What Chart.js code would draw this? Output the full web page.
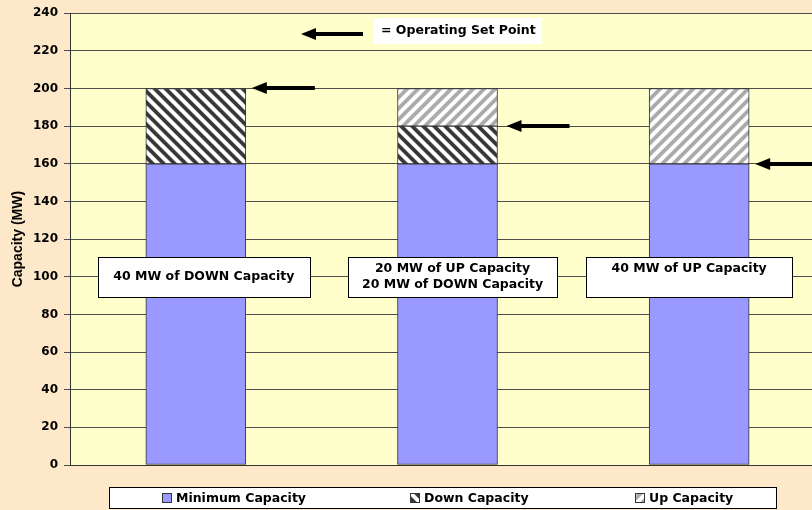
<!DOCTYPE html>
<html>
<head>
<meta charset="utf-8">
<script src="https://cdn.jsdelivr.net/npm/chart.js@4.4.0/dist/chart.umd.min.js"></script>
<style>
  html, body { margin: 0; padding: 0; background: #FDE9C9; overflow: hidden; }
  #wrap { position: relative; width: 825px; height: 510px; }
</style>
</head>
<body>
<div id="wrap"><canvas id="capacityChart" width="825" height="510"></canvas></div>
<script>
const categories = ["Case 1", "Case 2", "Case 3"];
const minimumCapacity = [160, 160, 160];
const downCapacity = [40, 20, 0];
const upCapacity = [0, 20, 40];
const setPoints = [200, 180, 160];
const notes = [
  ["40 MW of DOWN Capacity"],
  ["20 MW of UP Capacity", "20 MW of DOWN Capacity"],
  ["40 MW of UP Capacity", ""]
];
const yMin = 0, yMax = 240, yStep = 20;
const setPointLabel = "= Operating Set Point";

const canvas = document.getElementById("capacityChart");
const ctx = canvas.getContext("2d");
const textFont = "bold 12.5px 'DejaVu Sans'";

// diagonal hatch tiles, dir 1 = "/", -1 = "\"
function stripes(size, dark, light, dir) {
  const c = document.createElement("canvas");
  c.width = c.height = size;
  const g = c.getContext("2d");
  const img = g.createImageData(size, size);
  for (let y = 0; y < size; y++) {
    for (let x = 0; x < size; x++) {
      const d = (((dir > 0 ? x + y : x - y) % size) + size) % size;
      const t = 0.5 + 0.5 * Math.cos(2 * Math.PI * d / size);
      const k = Math.min(1, Math.max(0, (t - 0.3) / 0.45));
      const v = Math.round(light + (dark - light) * k);
      const i = (y * size + x) * 4;
      img.data[i] = img.data[i + 1] = img.data[i + 2] = v;
      img.data[i + 3] = 255;
    }
  }
  g.putImageData(img, 0, 0);
  return ctx.createPattern(c, "repeat");
}

const downPattern = stripes(11, 55, 255, -1);
const upPattern = stripes(11, 170, 255, 1);

function drawArrow(c, tipX, y, len) {
  c.fillStyle = "#000";
  c.beginPath();
  c.moveTo(tipX, y);
  c.lineTo(tipX + 15, y - 6);
  c.lineTo(tipX + 15, y + 6);
  c.closePath();
  c.fill();
  c.fillRect(tipX + 12, y - 2, len - 12, 4);
}

const backdrop = {
  id: "backdrop",
  beforeDraw(chart) {
    const c = chart.ctx, a = chart.chartArea;
    c.save();
    c.fillStyle = "#FDE9C9";
    c.fillRect(0, 0, chart.width, chart.height);
    c.fillStyle = "#FFFFCC";
    c.fillRect(a.left, a.top, a.right - a.left, a.bottom - a.top);
    c.restore();
  }
};

const noteBoxes = [{ dx: 8, w: 212 }, { dx: 5, w: 209 }, { dx: -10, w: 206 }];
const arrowGaps = [6, 9, 6];
const legendSwatchX = [162, 410, 635];

const overlay = {
  id: "overlay",
  afterDraw(chart) {
    const c = chart.ctx;
    const y = chart.scales.y;
    const top = chart.getDatasetMeta(2).data;
    c.save();

    // set point arrows
    setPoints.forEach((v, i) => {
      const bar = top[i];
      drawArrow(c, bar.x + bar.width / 2 + arrowGaps[i], Math.round(y.getPixelForValue(v)), 63);
    });

    // text boxes
    c.font = textFont;
    c.textAlign = "center";
    c.textBaseline = "middle";
    notes.forEach((lines, i) => {
      const cx = top[i].x + noteBoxes[i].dx;
      const cy = y.getPixelForValue(100);
      const w = noteBoxes[i].w, h = 40;
      const bx = Math.round(cx - w / 2) + 0.5, by = Math.round(cy - h / 2) + 0.5;
      c.fillStyle = "#fff";
      c.fillRect(bx, by, w, h);
      c.strokeStyle = "#000";
      c.lineWidth = 1;
      c.strokeRect(bx, by, w, h);
      c.fillStyle = "#000";
      lines.forEach((t, j) => {
        c.fillText(t, cx, cy + (j - (lines.length - 1) / 2) * 16);
      });
    });

    // set point key
    drawArrow(c, 301, 34, 62);
    c.fillStyle = "#fff";
    c.fillRect(374, 18, 168, 26);
    c.fillStyle = "#000";
    c.textAlign = "left";
    c.fillText(setPointLabel, 381, 31);

    // legend
    c.fillStyle = "#fff";
    c.fillRect(109.5, 487.5, 667, 21);
    c.strokeStyle = "#000";
    c.strokeRect(109.5, 487.5, 667, 21);
    chart.data.datasets.forEach((ds, i) => {
      const sx = legendSwatchX[i];
      c.fillStyle = ds.backgroundColor;
      c.fillRect(sx, 493, 10, 10);
      c.strokeStyle = "#333";
      c.strokeRect(sx + 0.5, 493.5, 9, 9);
      c.fillStyle = "#000";
      c.fillText(ds.label, sx + 14, 498.5);
    });
    c.restore();
  }
};

new Chart(canvas, {
  type: "bar",
  data: {
    labels: categories,
    datasets: [
      { label: "Minimum Capacity", data: minimumCapacity, backgroundColor: "#9999FF" },
      { label: "Down Capacity", data: downCapacity, backgroundColor: downPattern },
      { label: "Up Capacity", data: upCapacity, backgroundColor: upPattern }
    ].map(d => Object.assign(d, { borderColor: "#333", borderWidth: 1, borderSkipped: false, barThickness: 100 }))
  },
  options: {
    responsive: false,
    animation: false,
    devicePixelRatio: 1,
    layout: { padding: { top: 11, right: 0, bottom: 45, left: 0 } },
    plugins: { legend: { display: false }, tooltip: { enabled: false } },
    scales: {
      x: {
        stacked: true,
        grid: { display: false, drawTicks: false },
        ticks: { display: false },
        border: { color: "#333", width: 1 }
      },
      y: {
        stacked: true,
        min: yMin,
        max: yMax,
        ticks: { stepSize: yStep, padding: 6, color: "#000", font: { family: "DejaVu Sans", size: 12, weight: "bold" } },
        grid: { color: "#4d4d4d", tickLength: 6 },
        border: { color: "#333", width: 1 },
        title: {
          display: true,
          text: "Capacity (MW)",
          color: "#000",
          padding: { top: 10, bottom: 0 },
          font: { family: "Liberation Sans", size: 14, weight: "bold" }
        },
        afterFit(scale) { scale.width = 70; }
      }
    }
  },
  plugins: [backdrop, overlay]
});
</script>
</body>
</html>
